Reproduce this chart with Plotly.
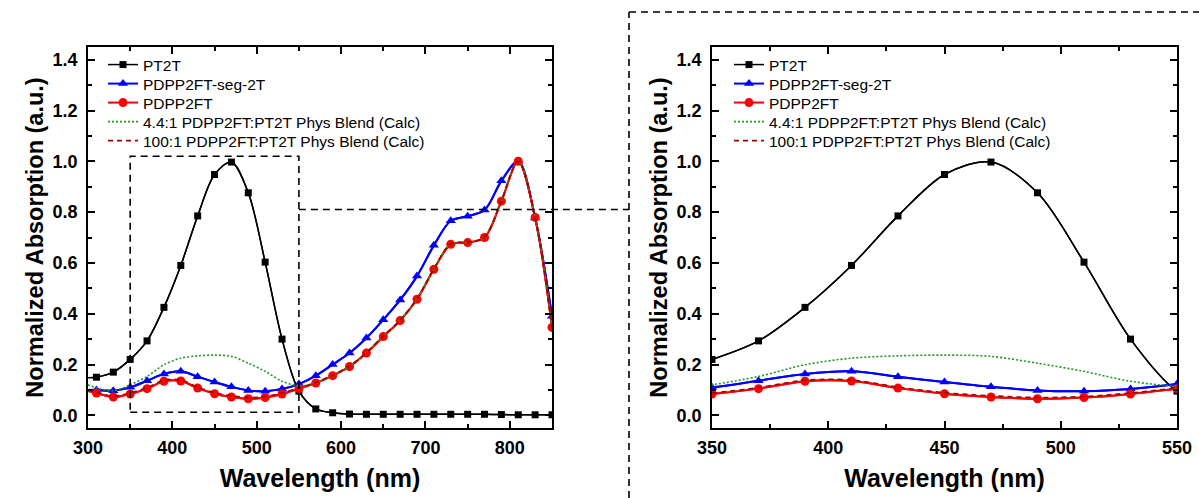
import plotly.graph_objects as go

# ---------------- data ----------------
wavelength = [300, 310, 330, 350, 370, 390, 410, 430, 450, 470, 490, 510, 530, 550,
              570, 590, 610, 630, 650, 670, 690, 710, 730, 750, 770, 790, 810, 830, 850]

pt2t = [0.148, 0.150, 0.170, 0.220, 0.293, 0.425, 0.590, 0.785, 0.948, 0.997, 0.876, 0.603, 0.300, 0.095,
        0.025, 0.010, 0.005, 0.004, 0.004, 0.004, 0.004, 0.004, 0.004, 0.004, 0.004, 0.003, 0.002, 0.002, 0.002]

seg2t = [0.100, 0.100, 0.097, 0.110, 0.136, 0.163, 0.173, 0.152, 0.131, 0.112, 0.098, 0.095, 0.104, 0.123,
         0.156, 0.200, 0.245, 0.304, 0.376, 0.454, 0.548, 0.669, 0.766, 0.784, 0.808, 0.923, 1.000, 0.777, 0.390]

pdpp2ft = [0.095, 0.088, 0.072, 0.084, 0.105, 0.134, 0.135, 0.107, 0.085, 0.072, 0.065, 0.070, 0.084, 0.105,
           0.127, 0.156, 0.192, 0.245, 0.310, 0.373, 0.457, 0.575, 0.673, 0.680, 0.700, 0.843, 1.000, 0.779, 0.346]

blend_44 = [0.120, 0.108, 0.097, 0.120, 0.153, 0.199, 0.225, 0.234, 0.237, 0.232, 0.205, 0.173, 0.134, 0.116,
            0.128, 0.157, 0.193, 0.246, 0.311, 0.374, 0.458, 0.576, 0.674, 0.681, 0.701, 0.844, 1.000, 0.780, 0.350]

blend_100 = [0.098, 0.091, 0.076, 0.088, 0.109, 0.138, 0.139, 0.111, 0.089, 0.077, 0.070, 0.074, 0.088, 0.108,
             0.129, 0.158, 0.194, 0.247, 0.312, 0.375, 0.459, 0.577, 0.675, 0.682, 0.702, 0.845, 1.000, 0.781, 0.348]

names = ["PT2T", "PDPP2FT-seg-2T", "PDPP2FT",
         "4.4:1 PDPP2FT:PT2T Phys Blend (Calc)", "100:1 PDPP2FT:PT2T Phys Blend (Calc)"]

x_ticks_left = [300, 400, 500, 600, 700, 800]
x_ticks_right = [350, 400, 450, 500, 550]
y_ticks = [0.0, 0.2, 0.4, 0.6, 0.8, 1.0, 1.2, 1.4]

# zoom region marked in the left panel
zoom_x = [350, 550]
zoom_y = [0.012, 1.02]
link_y = 0.81

# ---------------- styling ----------------
W, H = 1199, 498
FONT = "Liberation Sans, Arial, sans-serif"
left_dom = [88 / W, 552 / W]
right_dom = [712 / W, 1177 / W]
y_dom = [70 / H, 451 / H]
x_range_left = [300, 850]
x_range_right = [350, 550]
y_range = [-0.05, 1.45]

styles = [
    dict(color="black", width=1.5, dash="solid", symbol="square", size=7),
    dict(color="#0000FF", width=2, dash="solid", symbol="triangle-up", size=9),
    dict(color="#FF0000", width=2, dash="solid", symbol="circle", size=9),
    dict(color="#1E9B1E", width=1.6, dash="2px,2px", symbol=None, size=0),
    dict(color="#A00000", width=1.6, dash="5px,4px", symbol=None, size=0),
]
series = [pt2t, seg2t, pdpp2ft, blend_44, blend_100]

legend_font = dict(family=FONT, size=15.5, color="black")
legend_x = [103 / W, 729 / W]          # left edge of legend block per panel
legend_row0 = 65                        # px from top of first legend row centre
legend_step = 19                        # px between rows

fig = go.Figure()
legend_layout = {}

for p, (xa, ya) in enumerate([("x", "y"), ("x2", "y2")]):
    for i, (name, vals, st) in enumerate(zip(names, series, styles)):
        n = p * len(names) + i + 1
        leg = "legend" if n == 1 else f"legend{n}"
        legend_layout[leg] = dict(
            x=legend_x[p], y=1 - (legend_row0 + legend_step * i) / H,
            xanchor="left", yanchor="middle", bgcolor="rgba(0,0,0,0)",
            borderwidth=0, font=legend_font, itemwidth=30)
        # curve through all points (incl. the 300 nm edge point, which has no marker)
        fig.add_trace(go.Scatter(
            x=wavelength, y=vals, mode="lines",
            line=dict(color=st["color"], width=st["width"], dash=st["dash"], shape="spline", smoothing=0.9),
            showlegend=False, xaxis=xa, yaxis=ya, hoverinfo="skip"))
        if st["symbol"]:
            fig.add_trace(go.Scatter(
                x=wavelength[1:], y=vals[1:], mode="lines+markers", name=name,
                line=dict(color=st["color"], width=st["width"], shape="spline", smoothing=0.9),
                marker=dict(symbol=st["symbol"], size=st["size"], color=st["color"]),
                xaxis=xa, yaxis=ya, legend=leg))
        else:
            fig.add_trace(go.Scatter(
                x=[None], y=[None], mode="lines", name=name,
                line=dict(color=st["color"], width=st["width"], dash=st["dash"]),
                xaxis=xa, yaxis=ya, legend=leg))

tickfont = dict(family=FONT, size=18, color="black", weight="bold")
xtitlefont = dict(family=FONT, size=25, color="black", weight="bold")
ytitlefont = dict(family=FONT, size=23.5, color="black", weight="bold")
common_axis = dict(showline=True, linecolor="black", linewidth=1.5, mirror="allticks",
                   ticks="inside", ticklen=7, tickwidth=1.5, tickcolor="black",
                   showgrid=False, zeroline=False, tickfont=tickfont, automargin=False)
minor_y = dict(dtick=0.1, tick0=0, ticks="inside", ticklen=4, tickwidth=1.5, tickcolor="black")

fig.update_layout(
    width=W, height=H,
    margin=dict(l=0, r=0, t=0, b=0),
    paper_bgcolor="white", plot_bgcolor="white",
    font=dict(family=FONT, color="black"),
    xaxis=dict(domain=left_dom, range=x_range_left, tickvals=x_ticks_left, anchor="y", ticklabelstandoff=3,
               minor=dict(dtick=50, tick0=300, ticks="inside", ticklen=4, tickwidth=1.5, tickcolor="black"),
               title=dict(text="Wavelength (nm)", font=xtitlefont, standoff=12), **common_axis),
    yaxis=dict(domain=y_dom, range=y_range, tickvals=y_ticks, tickformat=".1f", anchor="x", ticklabelstandoff=5,
               minor=minor_y,
               title=dict(text="Normalized Absorption (a.u.)", font=ytitlefont, standoff=2), **common_axis),
    xaxis2=dict(domain=right_dom, range=x_range_right, tickvals=x_ticks_right, anchor="y2", ticklabelstandoff=3,
                minor=dict(dtick=25, tick0=350, ticks="inside", ticklen=4, tickwidth=1.5, tickcolor="black"),
                title=dict(text="Wavelength (nm)", font=xtitlefont, standoff=12), **common_axis),
    yaxis2=dict(domain=y_dom, range=y_range, tickvals=y_ticks, tickformat=".1f", anchor="x2", ticklabelstandoff=5,
                minor=minor_y,
                title=dict(text="Normalized Absorption (a.u.)", font=ytitlefont, standoff=2), **common_axis),
    **legend_layout,
)


def to_paper_x(v):
    return left_dom[0] + (v - x_range_left[0]) / (x_range_left[1] - x_range_left[0]) * (left_dom[1] - left_dom[0])


frame_x = 629 / W
frame_y = 1 - 12 / H
dash_line = dict(color="black", width=1.6, dash="7px,5px")

fig.add_shape(type="rect", xref="x", yref="y", x0=zoom_x[0], x1=zoom_x[1], y0=zoom_y[0], y1=zoom_y[1],
              line=dash_line, fillcolor="rgba(0,0,0,0)")
fig.add_shape(type="line", xref="paper", yref="y", x0=to_paper_x(zoom_x[1]), x1=frame_x, y0=link_y, y1=link_y,
              line=dash_line)
fig.add_shape(type="line", xref="paper", yref="paper", x0=frame_x, x1=frame_x, y0=0, y1=frame_y, line=dash_line)
fig.add_shape(type="line", xref="paper", yref="paper", x0=frame_x, x1=1, y0=frame_y, y1=frame_y, line=dash_line)

fig.write_html("out.html", config={"displayModeBar": False},
               post_script="document.body.style.margin='0';document.body.style.overflow='hidden';")
